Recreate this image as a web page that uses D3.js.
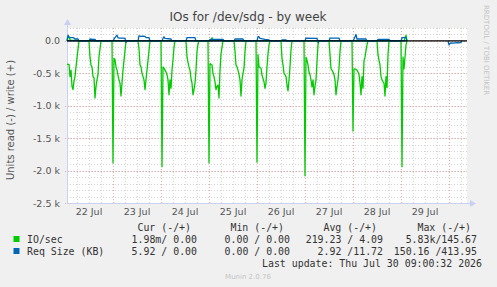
<!DOCTYPE html>
<html lang="en">
<head>
<meta charset="UTF-8">
<title>IOs for /dev/sdg - by week</title>
<style>
body{margin:0;background:#f0f0f0;}
svg{display:block;}
text{font-family:"DejaVu Sans",sans-serif;fill:#555;}
.mono{font-family:"DejaVu Sans Mono",monospace;font-size:9.9px;fill:#333;}
</style>
</head>
<body>
<div class="chart"></div>
<script src="https://cdn.jsdelivr.net/npm/d3@7"></script>
<script>
// hours counted from 22 Jul 2026 00:00, values in units (negative = read)
var startDay = new Date(2026, 6, 22, 0, 0);
var hoursRange = [1, 201];

var ioRead = [
	[1,-360],[2,-360],[2.5,-550],[3,-450],[3.5,-700],[4,-750],[4.5,-620],[5,-550],[5.5,-400],[6,-260],[6.5,-130],[7,0],
	[12,0],[12.5,-250],[13,-370],[13.5,-400],[14,-550],[14.5,-570],[15,-880],[15.5,-700],[16,-600],[16.5,-520],[17,-240],[17.5,-120],[18,0],
	[23.5,0],[24,-1880],[24.5,-270],[25,-290],[25.5,-400],[26,-450],[26.5,-530],[27,-600],[27.5,-650],[28,-850],[28.5,-650],[29,-450],[29.5,-300],[30,-150],[30.5,0],
	[36.5,0],[37,-120],[37.5,-370],[38,-400],[38.5,-500],[39,-550],[39.5,-600],[40,-750],[40.5,-600],[41,-450],[41.5,-300],[42,-150],[42.5,0],
	[48,0],[48.5,-1940],[49,-400],[49.5,-420],[50,-450],[50.5,-480],[51,-520],[51.5,-600],[52,-830],[52.5,-600],[53,-730],[53.5,-450],[54,-290],[54.5,-100],[55,0],
	[60.5,0],[61,-250],[61.5,-330],[62,-400],[62.5,-450],[63,-580],[63.5,-650],[64,-830],[64.5,-750],[65,-650],[65.5,-450],[66,-160],[66.5,-50],[67,0],
	[71.5,0],[72,-1880],[72.5,-350],[73,-360],[73.5,-370],[74,-500],[74.5,-550],[75,-630],[75.5,-750],[76,-700],[76.5,-680],[77,-880],[77.5,-450],[78,-200],[78.5,-100],[79,0],
	[84.5,0],[85,-160],[85.5,-370],[86,-400],[86.5,-450],[87,-520],[87.5,-600],[88,-850],[88.5,-600],[89,-500],[89.5,-420],[90,-160],[90.5,0],
	[95.5,0],[96,-1870],[96.5,-210],[97,-400],[97.5,-410],[98,-420],[98.5,-530],[99,-580],[99.5,-630],[100,-730],[100.5,-650],[101,-400],[101.5,-200],[102,-60],[102.5,0],
	[108,0],[108.5,-270],[109,-370],[109.5,-500],[110,-520],[110.5,-550],[111,-680],[111.5,-770],[112,-600],[112.5,-400],[113,-140],[113.5,0],
	[119.5,0],[120,-2080],[120.5,-250],[121,-300],[121.5,-370],[122,-480],[122.5,-520],[123,-600],[123.5,-710],[124,-600],[124.5,-830],[125,-700],[125.5,-600],[126,-320],[126.5,-60],[127,0],
	[132,0],[132.5,-210],[133,-430],[133.5,-450],[134,-480],[134.5,-520],[135,-600],[135.5,-830],[136,-700],[136.5,-600],[137,-420],[137.5,-160],[138,0],
	[143.5,0],[144,-1390],[144.5,-430],[145,-430],[145.5,-440],[146,-450],[146.5,-480],[147,-520],[147.5,-650],[148,-830],[148.5,-550],[149,-730],[149.5,-300],[150,-250],[150.5,-150],[151,-60],[151.5,0],
	[156,0],[156.5,-210],[157,-300],[157.5,-370],[158,-550],[158.5,-600],[159,-630],[159.5,-650],[160,-850],[160.5,-550],[161,-720],[161.5,-210],[162,0],
	[168,0],[168.5,-1940],[169,-250],[169.5,-430],[170,-250],[170.5,-60],[171,0],[171.5,null]
];
var ioWrite = [
	[1,0],[1.5,60],[2,60],[2.5,20],[3,10],[6.5,10],[7,0],
	[73,0],[73.5,50],[74,15],[78,10],[79,0],
	[169.5,0],[170,50],[170.5,90],[171,0],[171.5,null]
];
var reqRead = [
	[1,0],[171,0],[171.5,null],
	[191.5,0],[192,-60],[192.5,-40],[193,-30],[194,-35],[195,-30],[196,-25],[197,-30],[198,-20],[198.5,0]
];
var reqWrite = [
	[1,0],[1.5,90],[2,60],[2.5,50],[3,50],[4,50],[4.5,45],[5,30],[6,30],[6.5,30],[7,0],
	[12,0],[12.5,30],[14,25],[15,25],[15.5,0],
	[24,0],[24.5,30],[25,50],[25.5,70],[26,90],[26.5,50],[27,45],[29,45],[30,40],[30.5,-20],[31,0],
	[36.5,0],[37,80],[38,70],[39,75],[40,70],[40.5,50],[42,50],[42.5,0],
	[48.5,0],[49,40],[49.5,65],[50,40],[53,30],[53.5,0],
	[60.5,0],[61,50],[65,50],[65.5,0],
	[72,0],[72.5,25],[79,25],[79.5,0],
	[84.5,0],[85,30],[89,30],[89.5,0],
	[96,0],[96.5,65],[97,65],[97.5,40],[100,25],[102,15],[102.5,0],
	[108,0],[108.5,15],[110.5,15],[111,0],
	[120,0],[120.5,45],[126,40],[126.5,-20],[127,0],
	[132,0],[132.5,45],[137,45],[137.5,0],
	[144,0],[144.5,30],[145.5,100],[146,30],[150.5,30],[151,0],
	[156,0],[156.5,25],[162,25],[162.5,0],
	[168,0],[168.5,50],[170.5,50],[171,0],[171.5,null]
];

var yTicks = [0, -500, -1000, -1500, -2000, -2500];
var yTickLabels = ["0.0", "-0.5 k", "-1.0 k", "-1.5 k", "-2.0 k", "-2.5 k"];
var dayLabels = ["22 Jul", "23 Jul", "24 Jul", "25 Jul", "26 Jul", "27 Jul", "28 Jul", "29 Jul"];

var legendHeads = ["Cur (-/+)", "Min (-/+)", "Avg (-/+)", "Max (-/+)"];
var legendNames = ["IO/sec", "Req Size (KB)"];
var legendColors = ["#00cc00", "#0066b3"];
var legendValues = [
	["1.98m/ 0.00", "0.00 / 0.00", "219.23 / 4.09", "5.83k/145.67"],
	["5.92 / 0.00", "0.00 / 0.00", "2.92 /11.72", "150.16 /413.95"]
];

var W = 497, H = 287;
var plot = {left: 67, right: 467, top: 28, bottom: 203};

function hourDate(h){ return new Date(startDay.getTime() + h * 3600e3); }

var svg = d3.select('.chart').append('svg')
	.attr('width', W).attr('height', H);

svg.append('rect').attr('width', W).attr('height', H).style('fill', '#f0f0f0');

var x = d3.scaleTime()
	.domain(hoursRange.map(hourDate))
	.range([plot.left, plot.right]);
var y = d3.scaleLinear()
	.domain([-2500, 200])
	.range([plot.bottom, plot.top]);

svg.append('rect')
	.attr('x', plot.left).attr('y', plot.top)
	.attr('width', plot.right - plot.left).attr('height', plot.bottom - plot.top)
	.style('fill', '#fff');

var grid = svg.append('g');
// minor grid: 6 hours / 100 units
x.ticks(d3.timeHour.every(6)).forEach(function(t){
	var px = Math.round(x(t)) + 0.5;
	grid.append('line').attr('x1', px).attr('x2', px).attr('y1', plot.top).attr('y2', plot.bottom)
		.style('stroke', '#d4d4d4').style('stroke-dasharray', '1,2');
});
d3.range(-2500, 201, 100).forEach(function(v){
	var py = Math.round(y(v)) + 0.5;
	grid.append('line').attr('x1', plot.left).attr('x2', plot.right).attr('y1', py).attr('y2', py)
		.style('stroke', '#d4d4d4').style('stroke-dasharray', '1,2');
});
// major grid: days / 500 units
x.ticks(d3.timeDay.every(1)).forEach(function(t){
	var px = Math.round(x(t)) + 0.5;
	grid.append('line').attr('x1', px).attr('x2', px).attr('y1', plot.top).attr('y2', plot.bottom + 2)
		.style('stroke', '#eaa8a8').style('stroke-dasharray', '1,2');
});
yTicks.forEach(function(v){
	var py = Math.round(y(v)) + 0.5;
	grid.append('line').attr('x1', plot.left - 2).attr('x2', plot.right).attr('y1', py).attr('y2', py)
		.style('stroke', '#eaa8a8').style('stroke-dasharray', '1,2');
});

// y labels
svg.selectAll('.ylab').data(yTicks).enter().append('text')
	.attr('class', 'ylab')
	.attr('x', 60).attr('y', function(d){ return y(d) + 3.5; })
	.attr('text-anchor', 'end')
	.style('font-size', '9.5px')
	.text(function(d, i){ return yTickLabels[i]; });

// x labels at noon of each day
svg.selectAll('.xlab').data(dayLabels).enter().append('text')
	.attr('class', 'xlab')
	.attr('x', function(d, i){ return x(hourDate(i * 24 + 12)); })
	.attr('y', 215)
	.attr('text-anchor', 'middle')
	.style('font-size', '9.5px')
	.text(function(d){ return d; });

// axes with arrows
var axisCol = '#c8d0f4';
svg.append('line').attr('x1', plot.left + 0.5).attr('x2', plot.left + 0.5).attr('y1', plot.bottom).attr('y2', plot.top - 4)
	.style('stroke', axisCol);
svg.append('line').attr('x1', plot.left).attr('x2', plot.right + 4).attr('y1', plot.bottom + 0.5).attr('y2', plot.bottom + 0.5)
	.style('stroke', axisCol);
svg.append('path').attr('d', `M${plot.left - 3},${plot.top - 3} L${plot.left + 4},${plot.top - 3} L${plot.left + 0.5},${plot.top - 9} Z`)
	.style('fill', axisCol);
svg.append('path').attr('d', `M${plot.right + 3},${plot.bottom - 3} L${plot.right + 3},${plot.bottom + 4} L${plot.right + 9},${plot.bottom + 0.5} Z`)
	.style('fill', axisCol);

// series
var line = d3.line()
	.defined(function(d){ return d[1] !== null; })
	.x(function(d){ return x(hourDate(d[0])); })
	.y(function(d){ return y(d[1]); });

[[ioRead, '#00cc00'], [ioWrite, '#00cc00'], [reqRead, '#0066b3'], [reqWrite, '#0066b3']].forEach(function(s){
	svg.append('path').datum(s[0])
		.attr('d', line)
		.style('fill', 'none')
		.style('stroke', s[1])
		.style('stroke-width', 1.3)
		.style('stroke-linejoin', 'round');
});

// zero rule
svg.append('line').attr('x1', plot.left).attr('x2', plot.right).attr('y1', y(0)).attr('y2', y(0))
	.style('stroke', '#000').style('stroke-width', 1.3);

// title and side labels
svg.append('text').attr('x', 248).attr('y', 21).attr('text-anchor', 'middle')
	.style('font-size', '12px').style('fill', '#444').text('IOs for /dev/sdg - by week');
svg.append('text').attr('transform', 'translate(14,120) rotate(-90)').attr('text-anchor', 'middle')
	.style('font-size', '10px').text('Units read (-) / write (+)');
svg.append('text').attr('transform', 'translate(484,5) rotate(90)').attr('text-anchor', 'start')
	.style('font-size', '7px').style('fill', '#c4c4c4').text('RRDTOOL / TOBI OETIKER');

// legend
var colEnd = [197, 290, 383, 477];
legendHeads.forEach(function(h, i){
	svg.append('text').attr('class', 'mono').attr('x', colEnd[i] - 6).attr('y', 231)
		.attr('text-anchor', 'end').text(h);
});
legendNames.forEach(function(n, r){
	var ly = 243 + r * 12;
	svg.append('rect').attr('x', 13.5).attr('y', ly - 7).attr('width', 6).attr('height', 6)
		.style('fill', legendColors[r]);
	svg.append('text').attr('class', 'mono').attr('x', 27).attr('y', ly).text(n);
	legendValues[r].forEach(function(v, i){
		svg.append('text').attr('class', 'mono').attr('x', colEnd[i]).attr('y', ly)
			.attr('text-anchor', 'end').text(v);
	});
});
svg.append('text').attr('class', 'mono').attr('x', 482).attr('y', 267).attr('text-anchor', 'end')
	.text('Last update: Thu Jul 30 09:00:32 2026');
svg.append('text').attr('x', 248).attr('y', 279).attr('text-anchor', 'middle')
	.style('font-size', '7px').style('fill', '#c4c4c4').text('Munin 2.0.76');
</script>
</body>
</html>
